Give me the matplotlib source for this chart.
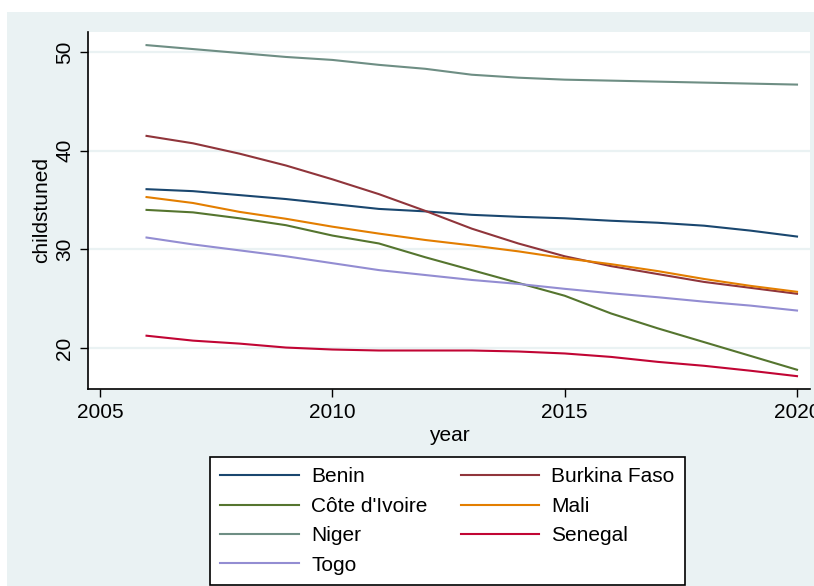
import matplotlib
matplotlib.use('Agg')
import matplotlib.pyplot as plt
from matplotlib.patches import Rectangle

plt.rcParams['font.family'] = ['Liberation Sans', 'DejaVu Sans']

# data
years = list(range(2006, 2021))
benin = [36.1, 35.9, 35.5, 35.1, 34.6, 34.1, 33.85, 33.5, 33.3, 33.15, 32.9, 32.7, 32.4, 31.9, 31.3]
burkina = [41.5, 40.75, 39.7, 38.5, 37.1, 35.6, 33.9, 32.1, 30.6, 29.3, 28.3, 27.5, 26.7, 26.1, 25.5]
cote = [34.0, 33.75, 33.15, 32.45, 31.4, 30.6, 29.2, 27.9, 26.6, 25.3, 23.5, 22.0, 20.6, 19.2, 17.8]
mali = [35.3, 34.7, 33.8, 33.1, 32.3, 31.6, 30.95, 30.4, 29.8, 29.1, 28.5, 27.8, 27.0, 26.3, 25.7]
niger = [50.7, 50.3, 49.9, 49.5, 49.2, 48.7, 48.3, 47.7, 47.4, 47.2, 47.1, 47.0, 46.9, 46.8, 46.7]
senegal = [21.25, 20.75, 20.45, 20.05, 19.85, 19.75, 19.75, 19.75, 19.65, 19.45, 19.1, 18.6, 18.2, 17.7, 17.15]
togo = [31.2, 30.5, 29.9, 29.3, 28.6, 27.9, 27.4, 26.9, 26.5, 26.0, 25.55, 25.15, 24.7, 24.3, 23.8]

countries = ['Benin', 'Burkina Faso', "Côte d'Ivoire", 'Mali', 'Niger', 'Senegal', 'Togo']
series = [benin, burkina, cote, mali, niger, senegal, togo]
colors = ['#1a476f', '#90353b', '#55752f', '#e37e00', '#6e8e84', '#c10534', '#938dd2']

bg = '#eaf2f3'
fs = 15

fig = plt.figure(figsize=(8.14, 5.86), dpi=100)
fig.patches.append(Rectangle((7 / 814, 0), 1, 1 - 12 / 586, transform=fig.transFigure,
                             facecolor=bg, edgecolor='none', zorder=-1))

ax = fig.add_axes([0.1081, 0.3362, 0.8870, 0.6092])
ax.set_facecolor('white')

lines = {}
for name, vals, c in zip(countries, series, colors):
    ln, = ax.plot(years, vals, color=c, lw=1.5, label=name)
    lines[name] = ln

ax.set_xlim(2004.74, 2020.28)
ax.set_ylim(15.85, 52.03)
ax.set_xticks([2005, 2010, 2015, 2020])
ax.set_yticks([20, 30, 40, 50])
ax.grid(axis='y', color=bg, lw=1.6)
ax.set_axisbelow(True)

for s in ['top', 'right']:
    ax.spines[s].set_visible(False)
for s in ['left', 'bottom']:
    ax.spines[s].set_color('black')
    ax.spines[s].set_linewidth(1.2)

ax.tick_params(axis='both', labelsize=fs, length=6, width=1.0, color='black', pad=4)
ax.tick_params(axis='y', labelrotation=90)
for lab in ax.get_yticklabels():
    lab.set_va('center')

ax.set_ylabel('childstuned', fontsize=fs, labelpad=3)
ax.set_xlabel('year', fontsize=fs, labelpad=3)

# legend filled row by row: Benin | Burkina Faso, Côte d'Ivoire | Mali, ...
order = ['Benin', "Côte d'Ivoire", 'Niger', 'Togo', 'Burkina Faso', 'Mali', 'Senegal']
leg = fig.legend([lines[n] for n in order], order, loc='upper left',
                 bbox_to_anchor=(210 / 814, 1 - 457 / 586), ncol=2, fontsize=fs,
                 frameon=True, fancybox=False, edgecolor='black', framealpha=1,
                 handlelength=3.75, handletextpad=0.6, columnspacing=1.6,
                 labelspacing=0.5, borderpad=0.5, borderaxespad=0)
leg.get_frame().set_linewidth(1.2)

fig.savefig('out.png', dpi=100, facecolor='white')
